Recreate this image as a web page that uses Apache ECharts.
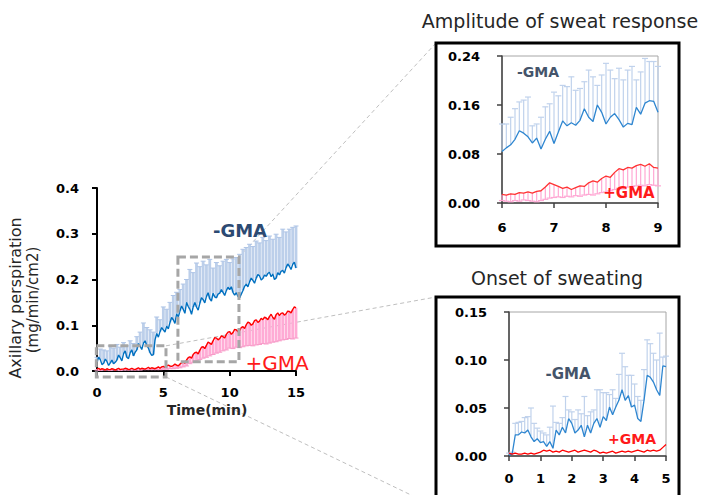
<!DOCTYPE html>
<html>
<head>
<meta charset="utf-8">
<script src="https://cdn.jsdelivr.net/npm/echarts@6/dist/echarts.min.js"></script>
<style>
html, body { margin: 0; padding: 0; background: #fff; }
#main { width: 702px; height: 495px; }
</style>
</head>
<body>
<div id="main"></div>
<script>
// main panel, 0-15 min; means every 0.125 min, error bars every 0.25 min
var mainStart = 0, mainStep = 0.125
var mainBlueMean = [
  0.020, 0.030, 0.025, 0.014, 0.017, 0.026, 0.021, 0.012, 0.018, 0.024, 0.016, 0.019,
  0.024, 0.035, 0.029, 0.022, 0.038, 0.044, 0.030, 0.027, 0.040, 0.046, 0.033, 0.041,
  0.046, 0.060, 0.054, 0.047, 0.061, 0.066, 0.056, 0.050, 0.040, 0.034, 0.036, 0.068,
  0.082, 0.074, 0.086, 0.095, 0.090, 0.085, 0.098, 0.092, 0.106, 0.117, 0.112, 0.104,
  0.125, 0.118, 0.131, 0.142, 0.135, 0.126, 0.150, 0.141, 0.135, 0.124, 0.140, 0.150,
  0.140, 0.133, 0.148, 0.160, 0.156, 0.149, 0.163, 0.171, 0.158, 0.153, 0.170, 0.162,
  0.160, 0.168, 0.170, 0.178, 0.172, 0.165, 0.176, 0.183, 0.178, 0.184, 0.172, 0.166,
  0.171, 0.163, 0.160, 0.168, 0.176, 0.185, 0.190, 0.184, 0.195, 0.203, 0.198, 0.192,
  0.203, 0.211, 0.208, 0.199, 0.202, 0.210, 0.207, 0.213, 0.216, 0.206, 0.212, 0.200,
  0.203, 0.215, 0.210, 0.218, 0.220, 0.214, 0.226, 0.234, 0.229, 0.222, 0.233, 0.238, 0.225
]
var mainBlueUpper = [
  0.030, 0.048, 0.046, 0.044, 0.055, 0.050, 0.058, 0.052, 0.062, 0.055, 0.066, 0.060,
  0.075, 0.085, 0.105, 0.095, 0.090, 0.085, 0.118, 0.112, 0.140, 0.135, 0.150, 0.165,
  0.172, 0.178, 0.190, 0.200, 0.222, 0.215, 0.236, 0.228, 0.240, 0.232, 0.244, 0.225,
  0.237, 0.230, 0.240, 0.244, 0.237, 0.245, 0.248, 0.255, 0.266, 0.270, 0.277, 0.272,
  0.284, 0.280, 0.292, 0.285, 0.295, 0.288, 0.299, 0.292, 0.310, 0.304, 0.310, 0.314, 0.317
]
var mainRedMean = [
  0.004, 0.006, 0.003, 0.005, 0.004, 0.002, 0.005, 0.003, 0.003, 0.005, 0.004, 0.002,
  0.004, 0.006, 0.003, 0.004, 0.004, 0.006, 0.005, 0.003, 0.004, 0.006, 0.004, 0.003,
  0.005, 0.007, 0.004, 0.006, 0.005, 0.004, 0.006, 0.008, 0.005, 0.007, 0.006, 0.005,
  0.007, 0.009, 0.006, 0.009, 0.010, 0.008, 0.011, 0.013, 0.011, 0.010, 0.012, 0.015,
  0.013, 0.011, 0.015, 0.018, 0.020, 0.017, 0.024, 0.029, 0.031, 0.028, 0.036, 0.040,
  0.041, 0.037, 0.045, 0.052, 0.053, 0.049, 0.056, 0.063, 0.061, 0.058, 0.066, 0.073,
  0.072, 0.068, 0.071, 0.077, 0.075, 0.072, 0.080, 0.085, 0.086, 0.080, 0.084, 0.091,
  0.090, 0.086, 0.088, 0.095, 0.097, 0.093, 0.101, 0.107, 0.105, 0.100, 0.103, 0.110,
  0.112, 0.106, 0.109, 0.115, 0.112, 0.118, 0.116, 0.112, 0.119, 0.124, 0.117, 0.113,
  0.123, 0.127, 0.121, 0.126, 0.127, 0.122, 0.125, 0.131, 0.130, 0.127, 0.134, 0.140, 0.138
]
var mainRedLower = [
  0.002, 0.001, 0.002, 0.002, 0.001, 0.002, 0.002, 0.001, 0.002, 0.002, 0.002, 0.002,
  0.002, 0.002, 0.003, 0.003, 0.003, 0.003, 0.003, 0.003, 0.004, 0.004, 0.005, 0.005,
  0.006, 0.007, 0.009, 0.011, 0.016, 0.019, 0.022, 0.025, 0.028, 0.030, 0.033, 0.036,
  0.039, 0.041, 0.044, 0.046, 0.050, 0.049, 0.052, 0.051, 0.053, 0.055, 0.056, 0.055,
  0.057, 0.058, 0.060, 0.059, 0.061, 0.063, 0.064, 0.066, 0.068, 0.069, 0.071, 0.070, 0.072
]

// inset "Amplitude of sweat response", 6-9 min, every 5 s
var ampStart = 6, ampStep = 1 / 12
var ampBlueMean = [
  0.084, 0.090, 0.095, 0.104, 0.118, 0.114, 0.108, 0.098, 0.106, 0.088, 0.104, 0.117,
  0.097, 0.116, 0.134, 0.126, 0.131, 0.127, 0.135, 0.154, 0.140, 0.133, 0.160, 0.148,
  0.129, 0.140, 0.146, 0.136, 0.124, 0.130, 0.128, 0.156, 0.145, 0.163, 0.167, 0.166, 0.148
]
var ampBlueUpper = [
  0.129, 0.129, 0.140, 0.154, 0.165, 0.168, 0.173, 0.126, 0.129, 0.140, 0.157, 0.162,
  0.181, 0.175, 0.192, 0.190, 0.206, 0.184, 0.187, 0.198, 0.217, 0.206, 0.192, 0.209,
  0.228, 0.217, 0.203, 0.220, 0.201, 0.217, 0.223, 0.201, 0.214, 0.236, 0.231, 0.231, 0.223
]
var ampRedMean = [
  0.014, 0.013, 0.015, 0.014, 0.017, 0.016, 0.018, 0.016, 0.019, 0.020, 0.026, 0.033,
  0.030, 0.027, 0.024, 0.026, 0.022, 0.025, 0.028, 0.027, 0.033, 0.036, 0.034, 0.040,
  0.044, 0.042, 0.050, 0.056, 0.054, 0.058, 0.057, 0.061, 0.063, 0.060, 0.064, 0.058, 0.057
]
var ampRedLower = [
  0.004, 0.003, 0.002, 0.004, 0.003, 0.005, 0.004, 0.003, 0.002, 0.004, 0.006, 0.008,
  0.009, 0.010, 0.009, 0.011, 0.010, 0.012, 0.011, 0.013, 0.014, 0.013, 0.015, 0.017,
  0.018, 0.020, 0.022, 0.024, 0.023, 0.026, 0.027, 0.028, 0.029, 0.028, 0.030, 0.029, 0.028
]

// inset "Onset of sweating", 0-5 min, every 0.1 min
var onsetStart = 0, onsetStep = 0.1
var onsetBlueMean = [
  0.001, 0.002, 0.022, 0.022, 0.025, 0.024, 0.027, 0.020, 0.015, 0.018,
  0.014, 0.015, 0.010, 0.015, 0.008, 0.027, 0.022, 0.030, 0.024, 0.039,
  0.034, 0.024, 0.027, 0.032, 0.020, 0.032, 0.024, 0.034, 0.039, 0.030,
  0.041, 0.037, 0.051, 0.043, 0.051, 0.058, 0.069, 0.058, 0.063, 0.051,
  0.053, 0.039, 0.036, 0.058, 0.084, 0.082, 0.077, 0.069, 0.063, 0.094, 0.093
]
var onsetBlueUpper = [
  0.003, 0.004, 0.034, 0.035, 0.036, 0.040, 0.041, 0.050, 0.034, 0.029,
  0.026, 0.024, 0.022, 0.030, 0.052, 0.035, 0.034, 0.040, 0.062, 0.048,
  0.046, 0.038, 0.048, 0.044, 0.062, 0.042, 0.046, 0.048, 0.069, 0.069,
  0.066, 0.066, 0.064, 0.069, 0.060, 0.085, 0.107, 0.093, 0.084, 0.084,
  0.075, 0.062, 0.058, 0.090, 0.121, 0.117, 0.107, 0.100, 0.128, 0.103, 0.104
]
var onsetRedMean = [
  0.003, 0.002, 0.003, 0.002, 0.002, 0.003, 0.002, 0.003, 0.002, 0.003,
  0.004, 0.006, 0.005, 0.006, 0.004, 0.005, 0.004, 0.006, 0.005, 0.004,
  0.005, 0.006, 0.004, 0.005, 0.006, 0.005, 0.004, 0.006, 0.005, 0.003,
  0.004, 0.003, 0.004, 0.005, 0.003, 0.004, 0.005, 0.004, 0.005, 0.004,
  0.005, 0.006, 0.005, 0.004, 0.006, 0.005, 0.006, 0.005, 0.006, 0.009, 0.012
]

// zoomed windows marked on the main panel: [t0, v0, t1, v1]
var onsetWindow = [-0.05, 0.055, 5.2, -0.013]
var ampWindow = [6.1, 0.249, 10.7, 0.02]

var mainTicksY = [0, 0.4, 0.1]
var ampTicksY = [0, 0.24, 0.08]
var onsetTicksY = [0, 0.15, 0.05]

var BLUE = '#0070c0', RED = '#ff0000'
var BLUE_BAR = '#bccfea', PINK_BAR = '#ffabd5'
var FONT = 'DejaVu Sans'

function pairs(start, step, arr) {
  return arr.map(function (v, i) { return [start + i * step, v] })
}
// error bar rows: [t, mean, bound]; stride = how many mean samples per bar
function bars(start, step, mean, bound, stride) {
  stride = stride || 1
  return bound.map(function (b, i) { return [start + i * step * stride, mean[i * stride], b] })
}

function wideBar(fill, cap) {
  return function (params, api) {
    var t = api.value(0)
    var a = api.coord([t, api.value(1)])
    var b = api.coord([t, api.value(2)])
    var w = 2.8
    return {
      type: 'group',
      children: [
        { type: 'rect', shape: { x: a[0] - w / 2, y: Math.min(a[1], b[1]), width: w, height: Math.abs(b[1] - a[1]) }, style: { fill: fill } },
        { type: 'line', shape: { x1: b[0] - 2.5, y1: b[1], x2: b[0] + 2.5, y2: b[1] }, style: { stroke: cap, lineWidth: 1 } }
      ]
    }
  }
}
function thinBar(color) {
  return function (params, api) {
    var t = api.value(0)
    var a = api.coord([t, api.value(1)])
    var b = api.coord([t, api.value(2)])
    return {
      type: 'group',
      children: [
        { type: 'line', shape: { x1: a[0], y1: a[1], x2: b[0], y2: b[1] }, style: { stroke: color, lineWidth: 1.2 } },
        { type: 'line', shape: { x1: b[0] - 3, y1: b[1], x2: b[0] + 3, y2: b[1] }, style: { stroke: color, lineWidth: 1.2 } }
      ]
    }
  }
}

function xAx(grid, min, max, interval, margin, lineColor, lw) {
  return {
    gridIndex: grid, type: 'value', min: min, max: max, interval: interval,
    axisLine: { show: true, onZero: false, lineStyle: { color: lineColor, width: lw } },
    axisTick: { show: true, length: 5, lineStyle: { color: lineColor, width: lw } },
    splitLine: { show: false },
    axisLabel: { color: '#000', fontFamily: FONT, fontWeight: 'bold', fontSize: 13, margin: margin }
  }
}
function yAx(grid, ticks, digits, margin, lineColor, lw) {
  return {
    gridIndex: grid, type: 'value', min: ticks[0], max: ticks[1], interval: ticks[2],
    axisLine: { show: true, lineStyle: { color: lineColor, width: lw } },
    axisTick: { show: true, length: 5, lineStyle: { color: lineColor, width: lw } },
    splitLine: { show: false },
    axisLabel: {
      color: '#000', fontFamily: FONT, fontWeight: 'bold', fontSize: 13, margin: margin,
      formatter: function (v) { return v.toFixed(digits) }
    }
  }
}

function lineSeries(idx, data, color, width) {
  return {
    type: 'line', xAxisIndex: idx, yAxisIndex: idx, data: data, showSymbol: false,
    lineStyle: { color: color, width: width }, z: 3, silent: true
  }
}
function barSeries(idx, data, render) {
  return {
    type: 'custom', xAxisIndex: idx, yAxisIndex: idx, data: data, renderItem: render,
    encode: { x: 0, y: [1, 2] }, z: 2, silent: true
  }
}

function txt(x, y, text, size, color, weight, rot) {
  return {
    type: 'text', x: x, y: y, rotation: rot || 0, z: 20,
    style: { text: text, fontSize: size, fontFamily: FONT, fontWeight: weight || 'normal', fill: color, align: 'center', verticalAlign: 'middle' }
  }
}

var chart = echarts.init(document.getElementById('main'), null, { renderer: 'svg' })

chart.setOption({
  animation: false,
  backgroundColor: '#fff',
  grid: [
    { left: 97, top: 188, width: 199, height: 183 },
    { left: 502, top: 56, width: 156, height: 147, show: true, borderColor: '#a6a6a6', borderWidth: 1, backgroundColor: 'transparent' },
    { left: 509, top: 312, width: 157, height: 144, show: true, borderColor: '#a6a6a6', borderWidth: 1, backgroundColor: 'transparent' }
  ],
  xAxis: [
    xAx(0, 0, 15, 5, 15, '#000', 2),
    xAx(1, 6, 9, 1, 18, '#404040', 1.5),
    xAx(2, 0, 5, 1, 16, '#404040', 1.5)
  ],
  yAxis: [
    yAx(0, mainTicksY, 1, 18, '#000', 2),
    yAx(1, ampTicksY, 2, 22, '#404040', 1.5),
    yAx(2, onsetTicksY, 2, 22, '#404040', 1.5)
  ],
  series: [
    barSeries(0, bars(mainStart, mainStep, mainBlueMean, mainBlueUpper, 2), wideBar(BLUE_BAR, '#aec4e6')),
    barSeries(0, bars(mainStart, mainStep, mainRedMean, mainRedLower, 2), wideBar(PINK_BAR, '#f79bc8')),
    lineSeries(0, pairs(mainStart, mainStep, mainBlueMean), BLUE, 1.4),
    lineSeries(0, pairs(mainStart, mainStep, mainRedMean), RED, 1.4),

    barSeries(1, bars(ampStart, ampStep, ampBlueMean, ampBlueUpper), thinBar('#c0d2ec')),
    barSeries(1, bars(ampStart, ampStep, ampRedMean, ampRedLower), thinBar('#ffa8d4')),
    lineSeries(1, pairs(ampStart, ampStep, ampBlueMean), '#2e86d0', 1.3),
    lineSeries(1, pairs(ampStart, ampStep, ampRedMean), '#ff3333', 1.3),

    barSeries(2, bars(onsetStart, onsetStep, onsetBlueMean, onsetBlueUpper), thinBar('#c0d2ec')),
    lineSeries(2, pairs(onsetStart, onsetStep, onsetBlueMean), '#2e86d0', 1.3),
    lineSeries(2, pairs(onsetStart, onsetStep, onsetRedMean), RED, 1.3)
  ]
})

// annotations: inset frames, zoom windows and leader lines
var amp = { x: 436, y: 43, w: 243, h: 203 }
var onset = { x: 436, y: 297, w: 243, h: 230 }

function corners(win) {
  var p = chart.convertToPixel({ gridIndex: 0 }, [win[0], win[1]])
  var q = chart.convertToPixel({ gridIndex: 0 }, [win[2], win[3]])
  return { x0: p[0], y0: p[1], x1: q[0], y1: q[1] }
}
var w1 = corners(onsetWindow)
var w2 = corners(ampWindow)

function dashRect(c) {
  return {
    type: 'rect', z: 15, shape: { x: c.x0, y: c.y0, width: c.x1 - c.x0, height: c.y1 - c.y0 },
    style: { fill: 'none', stroke: '#a6a6a6', lineWidth: 3, lineDash: [8, 4] }
  }
}
function leader(x1, y1, x2, y2) {
  return {
    type: 'line', z: 1, shape: { x1: x1, y1: y1, x2: x2, y2: y2 },
    style: { stroke: '#bfbfbf', lineWidth: 1, lineDash: [4, 3] }
  }
}
function frame(b) {
  return {
    type: 'rect', z: 16, shape: { x: b.x, y: b.y, width: b.w, height: b.h },
    style: { fill: 'none', stroke: '#000', lineWidth: 3 }
  }
}

chart.setOption({
  graphic: [
    leader(w2.x1, w2.y0, amp.x, amp.y),
    leader(w1.x1, w1.y0, onset.x, onset.y),
    leader(w1.x1, w1.y1, onset.x, onset.y + 210),
    dashRect(w1),
    dashRect(w2),
    frame(amp),
    frame(onset),
    txt(560, 21, 'Amplitude of sweat response', 19, '#262626'),
    txt(557, 278, 'Onset of sweating', 19, '#262626'),
    txt(15, 298, 'Axillary perspiration', 16, '#262626', 'normal', Math.PI / 2),
    txt(33, 300, '(mg/min/cm2)', 15, '#262626', 'normal', Math.PI / 2),
    txt(207, 410, 'Time(min)', 14, '#262626', 'bold'),
    txt(240, 230, '-GMA', 18, '#2c4a72', 'bold'),
    txt(277, 363, '+GMA', 20, '#ff1a1a'),
    txt(538, 72, '-GMA', 14, '#44546a', 'bold'),
    txt(629, 193, '+GMA', 15, '#ff1a1a', 'bold'),
    txt(568, 374, '-GMA', 15, '#44546a', 'bold'),
    txt(632, 439, '+GMA', 14, '#ff1a1a', 'bold')
  ]
})
</script>
</body>
</html>
